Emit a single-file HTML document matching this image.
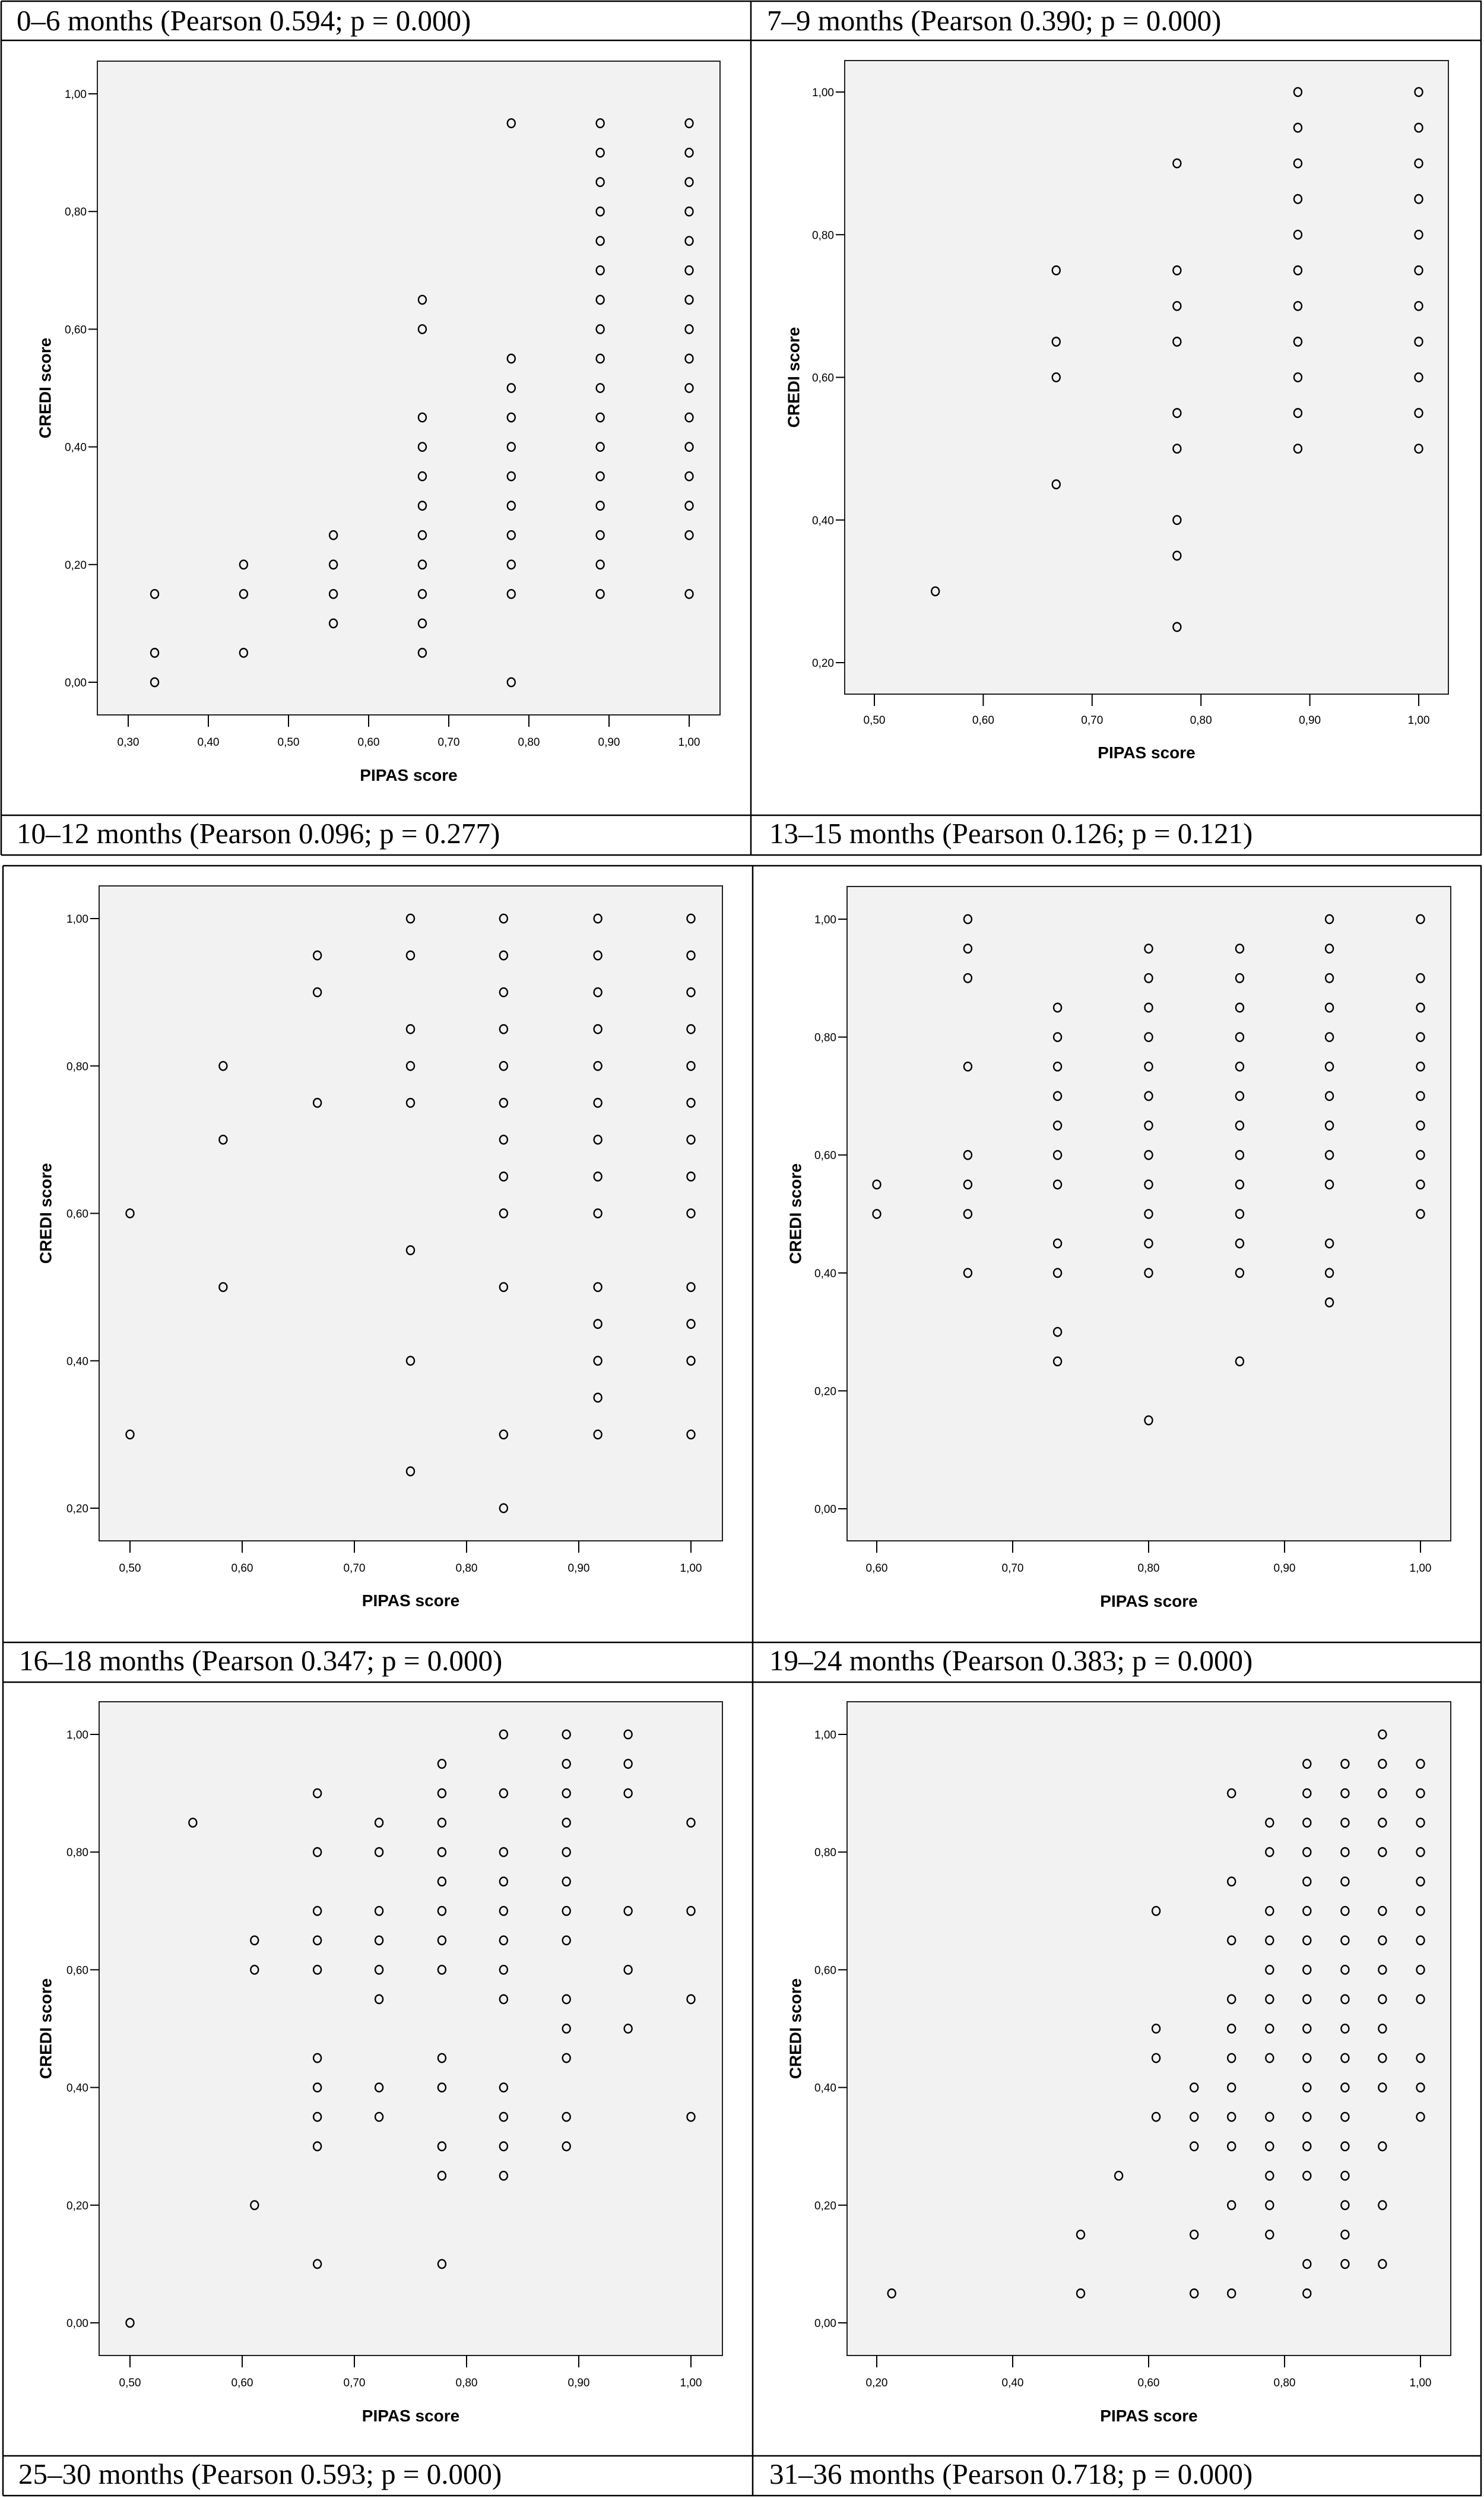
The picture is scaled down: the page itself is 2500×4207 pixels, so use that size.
<!DOCTYPE html>
<html><head><meta charset="utf-8"><title>PIPAS vs CREDI scatterplots</title>
<style>
html,body{margin:0;padding:0;background:#fff;}
svg{display:block;}
.ttl{font-family:"Liberation Serif",serif;font-size:49px;fill:#000;}
.tk{font-family:"Liberation Sans",sans-serif;font-size:19px;fill:#000;}
.at{font-family:"Liberation Sans",sans-serif;font-size:28px;font-weight:bold;fill:#000;}
</style></head>
<body>
<svg id="fig" width="2500" height="4207" viewBox="0 0 2500 4207" xmlns="http://www.w3.org/2000/svg">
<g id="grid" stroke="#000" stroke-width="2.5" fill="none">
<line x1="2" y1="2" x2="2496" y2="2"/>
<line x1="2" y1="68" x2="2496" y2="68"/>
<line x1="2" y1="1373" x2="2496" y2="1373"/>
<line x1="2" y1="1440" x2="2496" y2="1440"/>
<line x1="5" y1="1458" x2="2496" y2="1458"/>
<line x1="5" y1="2766" x2="2496" y2="2766"/>
<line x1="5" y1="2833" x2="2496" y2="2833"/>
<line x1="5" y1="4136" x2="2496" y2="4136"/>
<line x1="5" y1="4203" x2="2496" y2="4203"/>
<line x1="2" y1="2" x2="2" y2="1440"/>
<line x1="5" y1="1458" x2="5" y2="4203"/>
<line x1="1265" y1="2" x2="1265" y2="1440"/>
<line x1="1268" y1="1458" x2="1268" y2="4203"/>
<line x1="2495" y1="2" x2="2495" y2="1440"/>
<line x1="2495" y1="1458" x2="2495" y2="4203"/>
</g>
<text class="ttl" x="28" y="51">0–6 months (Pearson 0.594; p = 0.000)</text>
<text class="ttl" x="1292" y="51">7–9 months (Pearson 0.390; p = 0.000)</text>
<text class="ttl" x="28" y="1420">10–12 months (Pearson 0.096; p = 0.277)</text>
<text class="ttl" x="1296" y="1420">13–15 months (Pearson 0.126; p = 0.121)</text>
<text class="ttl" x="32" y="2813">16–18 months (Pearson 0.347; p = 0.000)</text>
<text class="ttl" x="1296" y="2813">19–24 months (Pearson 0.383; p = 0.000)</text>
<text class="ttl" x="31" y="4183">25–30 months (Pearson 0.593; p = 0.000)</text>
<text class="ttl" x="1296" y="4183">31–36 months (Pearson 0.718; p = 0.000)</text>
</svg>
<script>
// ---- data (PIPAS x columns, CREDI y values per column) ----
const xA = [0.333, 0.444, 0.556, 0.667, 0.778, 0.889, 1.0];
const yA = [
 [0.15,0.05,0.00],
 [0.20,0.15,0.05],
 [0.25,0.20,0.15,0.10],
 [0.65,0.60,0.45,0.40,0.35,0.30,0.25,0.20,0.15,0.10,0.05],
 [0.95,0.55,0.50,0.45,0.40,0.35,0.30,0.25,0.20,0.15,0.00],
 [0.95,0.90,0.85,0.80,0.75,0.70,0.65,0.60,0.55,0.50,0.45,0.40,0.35,0.30,0.25,0.20,0.15],
 [0.95,0.90,0.85,0.80,0.75,0.70,0.65,0.60,0.55,0.50,0.45,0.40,0.35,0.30,0.25,0.15]
];
const xB = [0.556, 0.667, 0.778, 0.889, 1.0];
const yB = [
 [0.30],
 [0.75,0.65,0.60,0.45],
 [0.90,0.75,0.70,0.65,0.55,0.50,0.40,0.35,0.25],
 [1.00,0.95,0.90,0.85,0.80,0.75,0.70,0.65,0.60,0.55,0.50],
 [1.00,0.95,0.90,0.85,0.80,0.75,0.70,0.65,0.60,0.55,0.50]
];
const xC = [0.5, 0.583, 0.667, 0.75, 0.833, 0.917, 1.0];
const yC = [
 [0.60,0.30],
 [0.80,0.70,0.50],
 [0.95,0.90,0.75],
 [1.00,0.95,0.85,0.80,0.75,0.55,0.40,0.25],
 [1.00,0.95,0.90,0.85,0.80,0.75,0.70,0.65,0.60,0.50,0.30,0.20],
 [1.00,0.95,0.90,0.85,0.80,0.75,0.70,0.65,0.60,0.50,0.45,0.40,0.35,0.30],
 [1.00,0.95,0.90,0.85,0.80,0.75,0.70,0.65,0.60,0.50,0.45,0.40,0.30]
];
const xD = [0.6, 0.667, 0.733, 0.8, 0.867, 0.933, 1.0];
const yD = [
 [0.55,0.50],
 [1.00,0.95,0.90,0.75,0.60,0.55,0.50,0.40],
 [0.85,0.80,0.75,0.70,0.65,0.60,0.55,0.45,0.40,0.30,0.25],
 [0.95,0.90,0.85,0.80,0.75,0.70,0.65,0.60,0.55,0.50,0.45,0.40,0.15],
 [0.95,0.90,0.85,0.80,0.75,0.70,0.65,0.60,0.55,0.50,0.45,0.40,0.25],
 [1.00,0.95,0.90,0.85,0.80,0.75,0.70,0.65,0.60,0.55,0.45,0.40,0.35],
 [1.00,0.90,0.85,0.80,0.75,0.70,0.65,0.60,0.55,0.50]
];
const xE = [0.5, 0.556, 0.611, 0.667, 0.722, 0.778, 0.833, 0.889, 0.944, 1.0];
const yE = [
 [0.00],
 [0.85],
 [0.65,0.60,0.20],
 [0.90,0.80,0.70,0.65,0.60,0.45,0.40,0.35,0.30,0.10],
 [0.85,0.80,0.70,0.65,0.60,0.55,0.40,0.35],
 [0.95,0.90,0.85,0.80,0.75,0.70,0.65,0.60,0.45,0.40,0.30,0.25,0.10],
 [1.00,0.90,0.80,0.75,0.70,0.65,0.60,0.55,0.40,0.35,0.30,0.25],
 [1.00,0.95,0.90,0.85,0.80,0.75,0.70,0.65,0.55,0.50,0.45,0.35,0.30],
 [1.00,0.95,0.90,0.70,0.60,0.50],
 [0.85,0.70,0.55,0.35]
];
const xF = [0.222, 0.5, 0.556, 0.611, 0.667, 0.722, 0.778, 0.833, 0.889, 0.944, 1.0];
const yF = [
 [0.05],
 [0.15,0.05],
 [0.25],
 [0.70,0.50,0.45,0.35],
 [0.40,0.35,0.30,0.15,0.05],
 [0.90,0.75,0.65,0.55,0.50,0.45,0.40,0.35,0.30,0.20,0.05],
 [0.85,0.80,0.70,0.65,0.60,0.55,0.50,0.45,0.35,0.30,0.25,0.20,0.15],
 [0.95,0.90,0.85,0.80,0.75,0.70,0.65,0.60,0.55,0.50,0.45,0.40,0.35,0.30,0.25,0.10,0.05],
 [0.95,0.90,0.85,0.80,0.75,0.70,0.65,0.60,0.55,0.50,0.45,0.40,0.35,0.30,0.25,0.20,0.15,0.10],
 [1.00,0.95,0.90,0.85,0.80,0.70,0.65,0.60,0.55,0.50,0.45,0.40,0.30,0.20,0.10],
 [0.95,0.90,0.85,0.80,0.75,0.70,0.65,0.60,0.55,0.45,0.40,0.35]
];
// tick labels
const xTicksA = ["0,30","0,40","0,50","0,60","0,70","0,80","0,90","1,00"];
const xTicksB = ["0,50","0,60","0,70","0,80","0,90","1,00"];
const xTicksC = ["0,50","0,60","0,70","0,80","0,90","1,00"];
const xTicksD = ["0,60","0,70","0,80","0,90","1,00"];
const xTicksE = ["0,50","0,60","0,70","0,80","0,90","1,00"];
const xTicksF = ["0,20","0,40","0,60","0,80","1,00"];
const yTicksFull = ["0,00","0,20","0,40","0,60","0,80","1,00"];
const yTicksHigh = ["0,20","0,40","0,60","0,80","1,00"];

const NS = "http://www.w3.org/2000/svg";
const svg = document.getElementById('fig');
function mk(tag, attrs, parent) {
  const e = document.createElementNS(NS, tag);
  for (const k in attrs) e.setAttribute(k, attrs[k]);
  parent.appendChild(e);
  return e;
}
const num = s => parseFloat(s.replace(',', '.'));

// layout: plot rect, axis calibration (value->pixel anchors)
const panels = [
 {id:'0-6', xs:xA, ys:yA, xt:xTicksA, yt:yTicksFull, L:164, R:1213, T:103, B:1204, x0:0.3, px0:216, x1:1.0, px1:1161, y0:0, py0:1149, y1:1, py1:158, xl:1256, xtt:1315, ytx:76},
 {id:'7-9', xs:xB, ys:yB, xt:xTicksB, yt:yTicksHigh, L:1423, R:2440, T:102, B:1169, x0:0.5, px0:1473, x1:1.0, px1:2390, y0:0.2, py0:1116, y1:1, py1:155, xl:1219, xtt:1277, ytx:1337},
 {id:'10-12', xs:xC, ys:yC, xt:xTicksC, yt:yTicksHigh, L:167, R:1217, T:1492, B:2595, x0:0.5, px0:219, x1:1.0, px1:1164, y0:0.2, py0:2540, y1:1, py1:1547, xl:2647, xtt:2705, ytx:77},
 {id:'13-15', xs:xD, ys:yD, xt:xTicksD, yt:yTicksFull, L:1427, R:2444, T:1493, B:2595, x0:0.6, px0:1477, x1:1.0, px1:2393, y0:0, py0:2541, y1:1, py1:1548, xl:2647, xtt:2706, ytx:1340},
 {id:'16-18', xs:xE, ys:yE, xt:xTicksE, yt:yTicksFull, L:167, R:1217, T:2866, B:3967, x0:0.5, px0:219, x1:1.0, px1:1164, y0:0, py0:3912, y1:1, py1:2921, xl:4019, xtt:4078, ytx:77},
 {id:'19-24', xs:xF, ys:yF, xt:xTicksF, yt:yTicksFull, L:1427, R:2444, T:2866, B:3967, x0:0.2, px0:1477, x1:1.0, px1:2393, y0:0, py0:3912, y1:1, py1:2921, xl:4019, xtt:4078, ytx:1340}
];

panels.forEach(p => {
  const X = v => p.px0 + (v - p.x0) * (p.px1 - p.px0) / (p.x1 - p.x0);
  const Y = v => p.py0 + (v - p.y0) * (p.py1 - p.py0) / (p.y1 - p.y0);
  const g = mk('g', {}, svg);
  
  
  const bg = mk('rect', {x:p.L, y:p.T, width:p.R-p.L, height:p.B-p.T, fill:'#f2f2f2', stroke:'#222', 'stroke-width':2}, g);
  
  
  // y ticks
  p.yt.forEach(t => {
    const y = Y(num(t));
    const ln = mk('line', {x1:p.L-15, y1:y, x2:p.L, y2:y, stroke:'#000', 'stroke-width':2}, g);
    
    
    const tx = mk('text', {x:p.L-18, y:y+7, 'text-anchor':'end', class:'tk'}, g);
    tx.textContent = t;
    
    
  });
  // x ticks
  p.xt.forEach(t => {
    const x = X(num(t));
    const ln = mk('line', {x1:x, y1:p.B, x2:x, y2:p.B+20, stroke:'#000', 'stroke-width':2}, g);
    
    
    const tx = mk('text', {x:x, y:p.xl, 'text-anchor':'middle', class:'tk'}, g);
    tx.textContent = t;
    
    
  });
  // axis titles
  const xtl = mk('text', {x:(p.L+p.R)/2, y:p.xtt, 'text-anchor':'middle', class:'at'}, g);
  xtl.textContent = 'PIPAS score';
  
  
  const cy = (p.T+p.B)/2;
  const ytl = mk('text', {x:p.ytx, y:cy, 'text-anchor':'middle', 'dominant-baseline':'central', class:'at', transform:'rotate(-90 '+p.ytx+' '+cy+')'}, g);
  ytl.textContent = 'CREDI score';
  
  
  // points
  p.xs.forEach((xv, i) => {
    p.ys[i].forEach(yv => {
      const c = mk('ellipse', {cx:X(xv), cy:Y(yv), rx:6.5, ry:7.2, fill:'none', stroke:'#000', 'stroke-width':2.4}, g);
      
      
    });
  });
});
</script>
</body></html>
